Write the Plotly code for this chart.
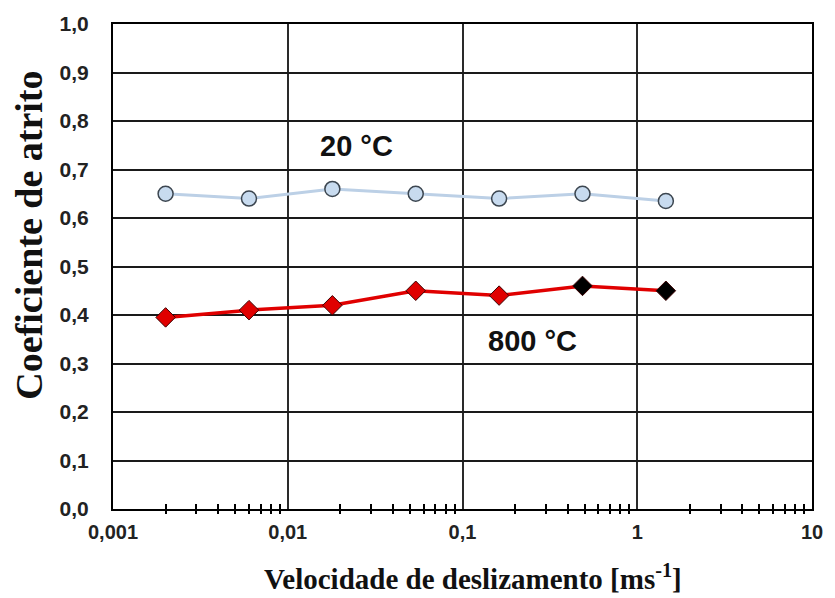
import plotly.graph_objects as go
import math

# Data
velocity = [0.002, 0.006, 0.018, 0.054, 0.162, 0.486, 1.458]
cof_20C = [0.65, 0.64, 0.66, 0.65, 0.64, 0.65, 0.635]
cof_800C = [0.395, 0.41, 0.42, 0.45, 0.44, 0.46, 0.45]
marker_colors_800C = ["#e00000", "#e00000", "#e00000", "#e00000", "#e00000", "#000000", "#000000"]

x_tickvals = [0.001, 0.01, 0.1, 1, 10]
x_ticktext = ["0,001", "0,01", "0,1", "1", "10"]
y_tickvals = [round(i * 0.1, 1) for i in range(11)]
y_ticktext = [f"{v:.1f}".replace(".", ",") for v in y_tickvals]
minor_vals = [k * 10 ** n for n in range(-3, 1) for k in range(2, 10)]

label_20C = "20 °C"
label_800C = "800 °C"
x_title = "Velocidade de deslizamento [ms<sup>-1</sup>]"
y_title = "Coeficiente de atrito"

sans = "Liberation Sans, Arial, sans-serif"
serif = "Liberation Serif, Times New Roman, serif"

fig = go.Figure()
fig.add_trace(go.Scatter(
    x=velocity, y=cof_20C, mode="lines+markers",
    line=dict(color="#bcd0e6", width=3),
    marker=dict(symbol="circle", size=15, color="#c8dbef",
                line=dict(color="#3c4650", width=1.5)),
    showlegend=False, hoverinfo="skip"))
fig.add_trace(go.Scatter(
    x=velocity, y=cof_800C, mode="lines+markers",
    line=dict(color="#e00000", width=3.5),
    marker=dict(symbol="diamond", size=15, color=marker_colors_800C,
                line=dict(color="#3a0000", width=1)),
    showlegend=False, hoverinfo="skip"))
# invisible trace to realise the overlay axis carrying outside minor ticks
fig.add_trace(go.Scatter(
    x=velocity, y=cof_800C, mode="markers", xaxis="x2",
    marker=dict(opacity=0), showlegend=False, hoverinfo="skip"))

fig.add_annotation(x=math.log10(0.0247), y=0.749, text=label_20C, showarrow=False,
                   font=dict(family=sans, size=29, color="#111111", weight="bold"),
                   xref="x", yref="y")
fig.add_annotation(x=math.log10(0.253), y=0.347, text=label_800C, showarrow=False,
                   font=dict(family=sans, size=29, color="#111111", weight="bold"),
                   xref="x", yref="y")
# axis titles
fig.add_annotation(x=0.515, y=-0.141, xref="paper", yref="paper", text=x_title,
                   showarrow=False, xanchor="center", yanchor="middle",
                   font=dict(family=serif, size=29, color="#111111", weight="bold"))
fig.add_annotation(x=-0.1206, y=0.565, xref="paper", yref="paper", text=y_title,
                   showarrow=False, textangle=-90, xanchor="center", yanchor="middle",
                   font=dict(family=serif, size=38, color="#111111", weight="bold"))

common_x = dict(type="log", range=[-3, 1])
fig.update_layout(
    width=835, height=598,
    margin=dict(l=113, r=17, t=19, b=89),
    paper_bgcolor="white", plot_bgcolor="white",
    xaxis=dict(
        **common_x,
        tickvals=x_tickvals, ticktext=x_ticktext,
        ticks="", showgrid=True, gridcolor="#2a2a2a", gridwidth=1.5,
        showline=True, linecolor="black", linewidth=2, mirror=True,
        minor=dict(tickvals=minor_vals, ticks="inside", ticklen=5,
                   tickwidth=2, tickcolor="black", showgrid=False),
        tickfont=dict(family=sans, size=20, color="#222222", weight="bold"),
        ticklabelstandoff=4,
        zeroline=False,
    ),
    xaxis2=dict(
        **common_x, overlaying="x", anchor="y", side="bottom",
        showticklabels=False, showgrid=False, showline=False, ticks="",
        minor=dict(tickvals=minor_vals, ticks="outside", ticklen=4,
                   tickwidth=2, tickcolor="black", showgrid=False),
        zeroline=False,
    ),
    yaxis=dict(
        range=[0, 1], tickvals=y_tickvals, ticktext=y_ticktext,
        ticks="", showgrid=True, gridcolor="#1a1a1a", gridwidth=2,
        showline=True, linecolor="black", linewidth=2, mirror=True,
        tickfont=dict(family=sans, size=21, color="#222222", weight="bold"),
        ticklabelstandoff=18,
        zeroline=False,
    ),
)

fig.write_html("out.html")
